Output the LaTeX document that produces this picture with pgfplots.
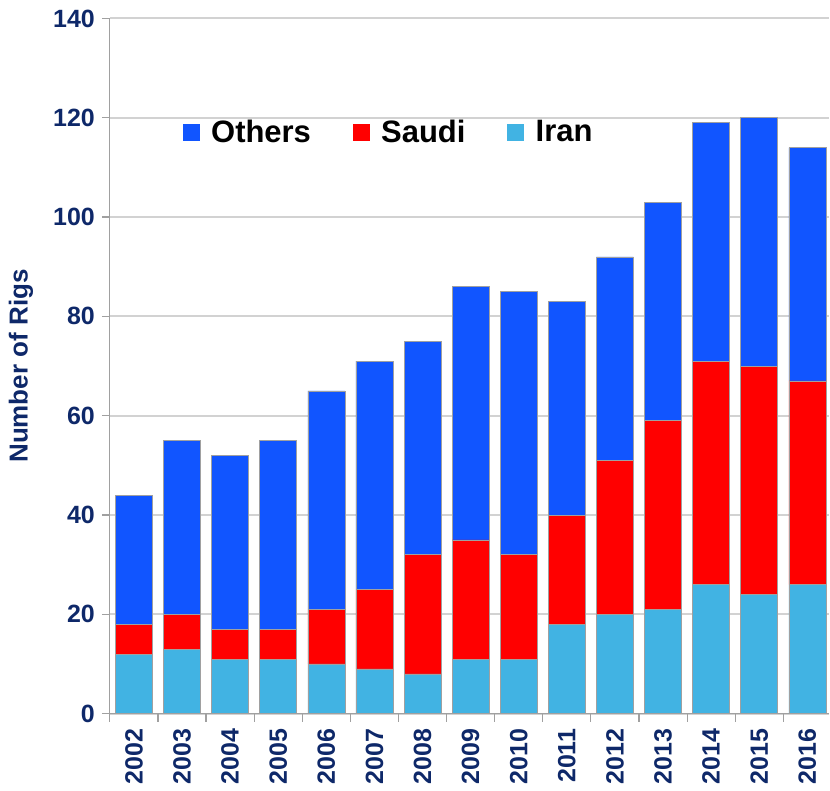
\documentclass[border=0pt]{standalone}
\usepackage{fontspec}
\setmainfont{Liberation Sans}
\usepackage{pgfplots}
\pgfplotsset{compat=1.18}
\definecolor{others}{RGB}{17,85,255}
\definecolor{saudi}{RGB}{255,0,0}
\definecolor{iran}{RGB}{65,179,227}
\definecolor{navy}{RGB}{14,40,105}
\definecolor{gridc}{RGB}{210,210,210}
\definecolor{axc}{RGB}{160,160,160}
\begin{document}
\begin{tikzpicture}
\begin{axis}[
  scale only axis, width=360pt, height=348pt,
  ybar stacked, bar width=0.77,
  xmin=-0.5, xmax=14.45, ymin=0, ymax=140,
  ytick={0,20,...,140},
  xtick={0,...,14},
  xticklabels={2002,2003,2004,2005,2006,2007,2008,2009,2010,2011,2012,2013,2014,2015,2016},
  minor xtick={-0.5,0.5,...,13.5},
  axis x line*=bottom, axis y line*=left,
  axis line style={axc, line width=0.6pt},
  ymajorgrids, major grid style={gridc, line width=1pt},
  tick align=outside,
  major tick length=4pt, minor tick length=4pt,
  y tick style={axc, line width=0.6pt},
  major x tick style={draw=none},
  minor x tick style={axc, line width=0.6pt},
  /pgf/number format/assume math mode=true,
  ticklabel style={font=\fontsize{12.5}{14}\selectfont\bfseries, text=navy},
  xticklabel style={rotate=90, anchor=east},
  every axis y label/.style={at={(axis description cs:-0.1236,0.5)}, rotate=90, anchor=center},
  ylabel={Number of Rigs},
  ylabel style={font=\fontsize{13}{15}\selectfont\bfseries, text=navy},
  legend style={at={(axis description cs:0.101,0.836)}, anchor=west, draw=none, fill=none,
    font=\fontsize{15.5}{17}\selectfont\bfseries, legend columns=3, inner sep=0pt,
    /tikz/every even column/.append style={column sep=19pt}},
  reverse legend,
  legend image code/.code={\fill[#1, draw=none] (0pt,-4.25pt) rectangle (8.5pt,4.25pt); \path (12pt,0pt);},
]
\addplot[fill=iran, draw=axc, line width=0.3pt] coordinates {
 (0,12) (1,13) (2,11) (3,11) (4,10) (5,9) (6,8) (7,11) (8,11) (9,18) (10,20) (11,21) (12,26) (13,24) (14,26)};
\addlegendentry{Iran}
\addplot[fill=saudi, draw=axc, line width=0.3pt] coordinates {
 (0,6) (1,7) (2,6) (3,6) (4,11) (5,16) (6,24) (7,24) (8,21) (9,22) (10,31) (11,38) (12,45) (13,46) (14,41)};
\addlegendentry{Saudi}
\addplot[fill=others, draw=axc, line width=0.3pt] coordinates {
 (0,26) (1,35) (2,35) (3,38) (4,44) (5,46) (6,43) (7,51) (8,53) (9,43) (10,41) (11,44) (12,48) (13,50) (14,47)};
\addlegendentry{Others}
\end{axis}
\path ([yshift=9.25pt]current axis.north west);
\path ([xshift=-55pt]current axis.south west);
\end{tikzpicture}
\end{document}
